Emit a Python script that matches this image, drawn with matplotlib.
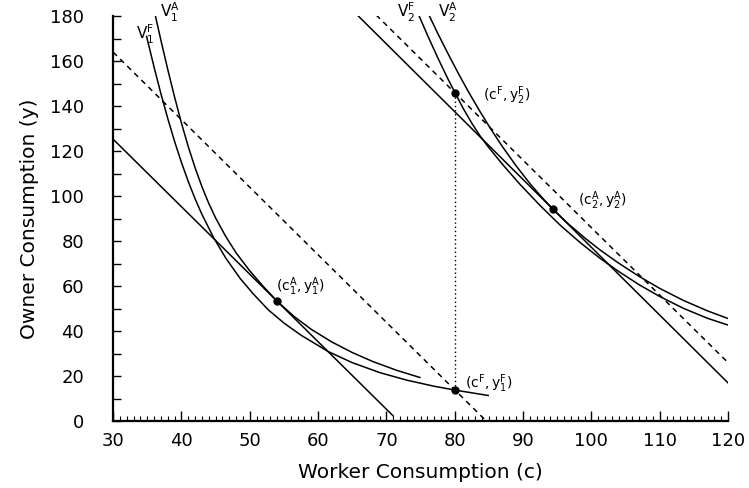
import matplotlib
matplotlib.use("Agg")
import matplotlib.pyplot as plt
from matplotlib.ticker import MultipleLocator

# indifference curves (worker c, owner y)
v1a_c = [36.2, 37.0, 38.0, 39.0, 40.0, 41.0, 42.0, 43.0, 44.0, 45.0, 46.5, 48.0, 50.0, 52.0,
         54.0, 56.5, 59.0, 62.0, 65.0, 68.0, 71.5, 74.9]
v1a_y = [180.0, 169.2, 156.3, 144.0, 132.5, 122.0, 112.6, 104.2, 96.8, 90.3, 82.0, 74.8, 66.8, 59.8,
         53.3, 46.5, 40.8, 35.2, 30.5, 26.5, 22.6, 19.4]

v1f_c = [34.9, 36.0, 37.0, 38.0, 39.0, 40.0, 41.0, 42.0, 43.0, 44.7, 46.5, 48.6, 50.5, 52.7,
         55.0, 57.5, 61.5, 65.0, 69.0, 73.0, 77.0, 80.05, 84.9]
v1f_y = [171.0, 157.3, 145.5, 134.5, 124.3, 115.0, 106.5, 98.8, 91.9, 81.6, 72.4, 63.4, 56.6, 49.5,
         43.6, 38.2, 30.9, 26.0, 21.6, 18.2, 15.5, 13.8, 11.4]

v2f_c = [74.8, 76.0, 77.5, 79.0, 80.05, 81.2, 82.5, 83.7, 84.9, 87.0, 89.5, 92.5, 95.5, 98.5,
         101.3, 104.0, 107.0, 110.0, 113.5, 117.0, 120.0]
v2f_y = [180.0, 171.6, 161.6, 152.1, 145.9, 139.2, 132.4, 126.8, 121.9, 114.1, 105.4, 95.8, 86.9, 79.0,
         72.3, 66.5, 60.6, 55.4, 50.1, 45.7, 42.7]

v2a_c = [76.3, 77.5, 79.0, 80.5, 82.0, 83.6, 85.2, 87.0, 89.0, 91.0, 92.8, 94.4, 96.5, 99.0,
         101.3, 104.0, 107.0, 110.0, 113.5, 117.0, 120.0]
v2a_y = [180.0, 172.4, 163.4, 154.7, 146.4, 138.1, 130.2, 121.9, 113.4, 105.6, 99.3, 94.1, 88.0, 81.5,
         76.0, 70.2, 64.3, 59.0, 53.6, 49.0, 45.6]

# budget lines (end points)
budget1_c = [30.0, 71.0]
budget1_y = [125.3, 2.3]
budget1f_c = [30.0, 84.3]
budget1f_y = [164.0, 1.0]
budget2_c = [65.9, 120.0]
budget2_y = [180.0, 17.0]
budget2f_c = [68.5, 120.0]
budget2f_y = [180.5, 26.0]

# marked allocations
pts_c = [54.0, 80.05, 80.05, 94.4]
pts_y = [53.3, 13.8, 145.9, 94.1]
pt_labels = [r"$(\mathrm{c}_1^\mathrm{A},\mathrm{y}_1^\mathrm{A})$",
             r"$(\mathrm{c}^\mathrm{F},\mathrm{y}_1^\mathrm{F})$",
             r"$(\mathrm{c}^\mathrm{F},\mathrm{y}_2^\mathrm{F})$",
             r"$(\mathrm{c}_2^\mathrm{A},\mathrm{y}_2^\mathrm{A})$"]
label_c = [53.9, 81.5, 84.1, 98.1]
label_y = [59.8, 16.7, 144.7, 97.8]

curve_names = [r"$\mathrm{V}_1^\mathrm{F}$", r"$\mathrm{V}_1^\mathrm{A}$",
               r"$\mathrm{V}_2^\mathrm{F}$", r"$\mathrm{V}_2^\mathrm{A}$"]
name_c = [33.3, 36.9, 71.6, 77.5]
name_y = [172.0, 181.5, 181.5, 181.5]

fig = plt.figure(figsize=(7.49, 4.88), dpi=100)
ax = fig.add_axes([0.151, 0.137, 0.821, 0.830])

lw = 1.1
for cc, yy in [(v1a_c, v1a_y), (v1f_c, v1f_y), (v2f_c, v2f_y), (v2a_c, v2a_y)]:
    ax.plot(cc, yy, color="black", lw=lw, solid_joinstyle="round")

ax.plot(budget1_c, budget1_y, color="black", lw=lw)
ax.plot(budget2_c, budget2_y, color="black", lw=lw)
ax.plot(budget1f_c, budget1f_y, color="black", lw=lw, dashes=(3.5, 3))
ax.plot(budget2f_c, budget2f_y, color="black", lw=lw, dashes=(3.5, 3))

ax.plot([pts_c[1], pts_c[2]], [pts_y[1], pts_y[2]], color="black", lw=1.0, ls=(0, (1, 2)))
ax.plot(pts_c, pts_y, "o", color="black", ms=5)

for t, x, y in zip(pt_labels, label_c, label_y):
    ax.text(x, y, t, fontsize=10, ha="left", va="center")
for t, x, y in zip(curve_names, name_c, name_y):
    ax.text(x, y, t, fontsize=11, ha="left", va="center", clip_on=False)

ax.set_xlim(30, 120)
ax.set_ylim(0, 180)
ax.spines["top"].set_visible(False)
ax.spines["right"].set_visible(False)
ax.spines["left"].set_linewidth(1.6)
ax.spines["bottom"].set_linewidth(1.6)

ax.xaxis.set_major_locator(MultipleLocator(10))
ax.xaxis.set_minor_locator(MultipleLocator(1))
ax.yaxis.set_major_locator(MultipleLocator(20))
ax.yaxis.set_minor_locator(MultipleLocator(10))
ax.tick_params(axis="x", which="major", direction="in", length=7, width=1.0, pad=8, labelsize=13)
ax.tick_params(axis="x", which="minor", direction="in", length=3.5, width=0.8)
ax.tick_params(axis="y", which="major", direction="in", length=6, width=1.0, pad=21, labelsize=13)
ax.tick_params(axis="y", which="minor", direction="in", length=6, width=1.0)

ax.set_xlabel("Worker Consumption (c)", fontsize=14.5, labelpad=9)
ax.set_ylabel("Owner Consumption (y)", fontsize=14.5, labelpad=8)

fig.savefig("out.png", dpi=100)
